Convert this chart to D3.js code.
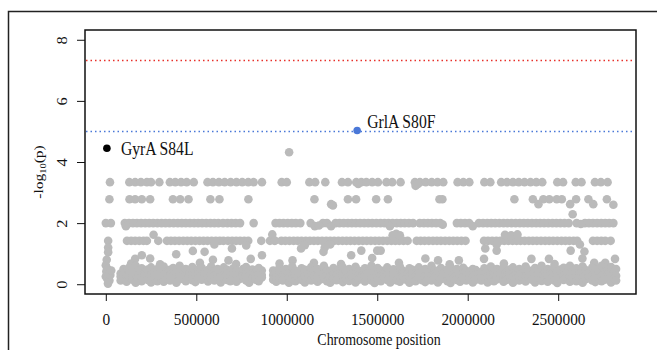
<!DOCTYPE html>
<html>
<head>
<meta charset="utf-8">
<script src="https://cdn.jsdelivr.net/npm/d3@7"></script>
<style>
  html, body { margin: 0; padding: 0; background: #fff; }
  svg { display: block; }
  text { font-family: "Liberation Serif", "Times New Roman", serif; }
</style>
</head>
<body>
<div id="chart"></div>
<script>
// all positions below are in kb along the chromosome
const level334 = 3.34, level278 = 2.78, level200 = 2.0, level142 = 1.42;

const row334 = [23,130,162,194,227,250,296,354,384,416,447,486,562,592,625,657,690,722,754,787,817,863,
  972,1000,1125,1157,1213,1305,1338,1384,1412,1440,1472,1504,1551,1583,1629,1708,1736,1768,1801,1833,1865,
  1944,1976,2009,2092,2125,2185,2217,2250,2282,2314,2347,2379,2412,2495,2527,2597,2629,2703,2736,2773];
const row334Off = [[1395,3.28],[1712,3.22],[1725,3.28]];

const row278 = [20,131,162,199,245,371,411,457,578,628,788,1153,1338,1383,1494,1559,1844,1860,
  2258,2360,2418,2451,2492,2520,2599,2667,2769];
const row278Off = [[1245,2.62],[1255,2.58],[2391,2.62],[2566,2.62],[2694,2.62],[2805,2.6]];

const row200 = [0,28,105,128,150,172,195,218,240,262,285,308,330,352,375,398,420,442,465,488,510,532,555,578,600,622,
  648,672,695,718,742,817,938,960,982,1005,1028,1050,1075,1132,1200,1222,
  1270,1292,1315,1338,1360,1382,1405,1428,1450,1472,1495,1518,1540,1562,1585,1608,1630,1652,1675,1698,
  1735,1758,1780,1802,1825,1848,1940,1962,1985,2008,
  2062,2085,2108,2130,2152,2175,2198,2220,2242,2265,2288,2310,2332,2355,2378,2400,2422,2445,2468,2490,
  2512,2535,2558,2602,2648,2670,2692,2715,2738,2760,2782,2805];
const row200Off = [[111,1.9],[1155,1.9],[1178,1.92],[1245,1.9],[1570,1.9],[1862,1.95],[2028,1.9],[2580,2.29],[2625,1.97]];

const row142 = [13,117,140,162,185,208,227,290,338,360,382,405,428,450,472,495,518,540,562,585,608,630,650,675,698,720,742,765,787,
  859,907,934,970,992,1015,1038,1060,1082,1105,1128,1150,1172,1195,1218,1240,1262,1285,1308,1330,1352,1375,1398,1420,1442,
  1465,1488,1510,1532,1555,1578,1600,1622,1645,1668,1718,1740,1762,1785,1808,1830,1852,1875,1898,1920,1942,1965,1988,
  2090,2112,2135,2158,2180,2202,2225,2248,2270,2292,2315,2338,2360,2382,2405,2428,2450,2472,2495,2518,2540,2562,2585,2605,
  2692,2715,2738,2760,2790];
const row142Off = [[264,1.62],[920,1.63],[1585,1.6],[1605,1.65],[1625,1.6],[2206,1.62],[2240,1.6],[2275,1.63],
  [776,1.27],[600,1.3],[1100,1.28],[1240,1.3],[1210,1.2],[2160,1.3],[2620,1.3]];

// scattered points between the band and the 1.42 row
const midPts = [[13,1.2],[13,1.05],[5,0.8],[162,0.83],[199,0.95],[245,0.84],[389,0.98],[481,1.09],[546,1.06],[592,0.8],
  [678,0.78],[697,1.17],[801,0.83],[863,0.95],[932,1.43],[1032,0.78],[1079,1.17],[1203,1.06],[1356,0.95],[1412,1.1],
  [1472,0.86],[1500,1.1],[1519,1.1],[1766,0.84],[1836,0.78],[1951,0.78],[2090,0.83],[2097,1.17],[2160,1.1],[2352,0.83],
  [2449,0.83],[2569,1.1],[2634,0.84],[2645,1.07],[2699,0.7],[2814,0.83],
  [140,0.68],[300,0.65],[520,0.7],[720,0.66],[960,0.68],[1150,0.7],[1300,0.66],[1620,0.7],[1900,0.65],[2200,0.68],
  [2480,0.66],[2760,0.7],
  [0,0.62],[10,0.5],[3,0.42],[15,0.35],[0,0.25],[8,0.18],[20,0.12],[12,0.02],[25,0.3],[30,0.45]];

// dense low band: one position, an upper, a middle and a lower value
const bandPos = [82,98,115,130,148,165,180,198,215,232,250,268,285,302,320,338,355,372,390,408,
  425,442,460,478,495,512,530,548,565,582,600,618,635,652,670,688,705,722,740,758,775,792,810,828,845,862,
  925,942,960,978,995,1012,1030,1048,1065,1082,1100,1118,1135,1152,1170,1188,1205,1222,1240,1258,
  1275,1292,1310,1328,1345,1362,1380,1398,1415,1432,1450,1468,1485,1502,1520,1538,1555,1572,1590,1608,
  1625,1642,1660,1678,1695,1712,1730,1748,1765,1782,1800,1818,1835,1852,1870,1888,1905,1922,1940,1958,
  1975,1992,2010,2028,2045,
  2075,2092,2110,2128,2145,2162,2180,2198,2215,2232,2250,2268,2285,2302,2320,2338,2355,2372,2390,2408,
  2425,2442,2460,2478,2495,2512,2530,2548,2565,2582,2600,2618,2635,2652,2670,2688,2705,2722,2740,2758,
  2775,2792,2810,2820];
const bandHi = [0.35,0.5,0.42,0.55,0.38,0.6,0.45,0.52,0.4,0.48,0.55,0.36,0.5,0.44,0.58,0.4,0.47,0.53,0.38,0.6,
  0.45,0.5,0.42,0.56,0.37,0.49,0.54,0.4,0.46,0.58,0.43,0.5,0.36,0.55,0.47,0.41,0.52,0.45,0.38,0.5,0.56,0.42,0.48,0.37,0.53,0.45,
  0.45,0.38,0.55,0.42,0.5,0.36,0.58,0.44,0.4,0.52,0.47,0.35,0.56,0.43,0.5,0.39,0.6,0.45,0.41,0.53,
  0.37,0.48,0.55,0.42,0.5,0.36,0.57,0.44,0.39,0.52,0.46,0.6,0.4,0.53,0.45,0.38,0.55,0.42,0.49,0.36,
  0.58,0.44,0.4,0.52,0.47,0.35,0.55,0.43,0.5,0.38,0.6,0.45,0.41,0.53,0.37,0.48,0.56,0.42,0.5,0.36,
  0.54,0.44,0.39,0.5,0.46,
  0.4,0.52,0.45,0.58,0.38,0.5,0.44,0.56,0.4,0.48,0.55,0.42,0.5,0.36,0.58,0.45,0.4,0.53,0.47,0.6,
  0.38,0.5,0.44,0.56,0.41,0.48,0.54,0.39,0.6,0.45,0.52,0.4,0.58,0.46,0.37,0.55,0.43,0.5,0.6,0.42,
  0.48,0.56,0.4,0.5];
const bandMid = [0.25,0.3,0.28,0.36,0.22,0.33,0.3,0.26,0.34,0.29,0.31,0.27,0.35,0.24,0.3,0.33,0.28,0.36,0.25,0.32,
  0.3,0.27,0.34,0.29,0.22,0.33,0.3,0.35,0.26,0.31,0.28,0.36,0.24,0.3,0.33,0.27,0.35,0.29,0.25,0.32,0.3,0.26,0.34,0.28,0.31,0.3,
  0.3,0.24,0.33,0.28,0.35,0.22,0.3,0.27,0.34,0.29,0.25,0.32,0.28,0.36,0.26,0.3,0.33,0.27,0.24,0.31,
  0.29,0.35,0.25,0.3,0.27,0.33,0.24,0.31,0.28,0.26,0.35,0.3,0.22,0.32,0.28,0.34,0.29,0.25,0.33,0.27,
  0.26,0.34,0.3,0.24,0.33,0.27,0.35,0.29,0.25,0.31,0.28,0.34,0.23,0.3,0.35,0.27,0.22,0.32,0.29,0.26,
  0.34,0.28,0.31,0.24,0.3,
  0.27,0.33,0.25,0.36,0.28,0.3,0.34,0.24,0.29,0.35,0.23,0.31,0.27,0.34,0.26,0.32,0.3,0.24,0.33,0.28,
  0.35,0.25,0.3,0.27,0.22,0.32,0.29,0.35,0.25,0.31,0.27,0.34,0.23,0.3,0.36,0.28,0.25,0.32,0.27,0.3,
  0.34,0.24,0.31,0.28];
const bandLo = [0.12,0.2,0.08,0.25,0.15,0.05,0.22,0.1,0.28,0.14,0.06,0.2,0.1,0.24,0.08,0.18,0.12,0.26,0.05,0.16,
  0.22,0.1,0.27,0.13,0.07,0.2,0.15,0.24,0.09,0.18,0.12,0.25,0.06,0.2,0.14,0.1,0.22,0.08,0.17,0.26,0.12,0.05,0.2,0.15,0.1,0.22,
  0.15,0.08,0.22,0.12,0.26,0.05,0.18,0.1,0.24,0.14,0.06,0.2,0.12,0.27,0.08,0.16,0.22,0.1,0.05,0.19,
  0.13,0.25,0.07,0.18,0.11,0.23,0.06,0.15,0.2,0.09,0.26,0.12,0.04,0.18,0.1,0.22,0.14,0.06,0.2,0.12,
  0.08,0.25,0.15,0.05,0.2,0.1,0.24,0.13,0.07,0.18,0.12,0.22,0.06,0.16,0.26,0.1,0.04,0.2,0.14,0.08,
  0.22,0.12,0.18,0.06,0.15,
  0.12,0.2,0.06,0.25,0.1,0.16,0.22,0.08,0.14,0.26,0.05,0.18,0.12,0.24,0.09,0.2,0.15,0.06,0.22,0.11,
  0.26,0.08,0.17,0.12,0.04,0.2,0.14,0.24,0.08,0.18,0.1,0.22,0.05,0.16,0.25,0.12,0.07,0.2,0.1,0.15,
  0.24,0.06,0.18,0.12];

const outlier = [1013, 4.32];
const hits = [
  { label: 'GyrA S84L', pos: 6, value: 4.45, color: '#000000' },
  { label: 'GrlA S80F', pos: 1389, value: 5.03, color: '#4a78d8' },
];
const genomeWideLine = 7.32;
const suggestiveLine = 5.0;
const xTicks = [0, 500000, 1000000, 1500000, 2000000, 2500000];
const yTicks = [0, 2, 4, 6, 8];

const W = 657, H = 350;
const squeeze = 0.87; // the source figure is narrower than tall type
const svg = d3.select('#chart').append('svg').attr('width', W).attr('height', H);

// outer figure frame (runs off the right/bottom edge)
svg.append('rect')
  .attr('x', 8.5).attr('y', 11.5).attr('width', 700).attr('height', 400)
  .attr('fill', 'none').attr('stroke', '#222').attr('stroke-width', 1.5);

const x = d3.scaleLinear().domain([-115000, 2930000]).range([85, 636]);
const y = d3.scaleLinear().domain([-0.32, 8.32]).range([294, 30]);

const pts = [];
row334.forEach(p => pts.push([p, level334]));
row334Off.forEach(d => pts.push(d));
row278.forEach(p => pts.push([p, level278]));
row278Off.forEach(d => pts.push(d));
row200.forEach(p => pts.push([p, level200]));
row200Off.forEach(d => pts.push(d));
row142.forEach(p => pts.push([p, level142]));
row142Off.forEach(d => pts.push(d));
midPts.forEach(d => pts.push(d));
bandPos.forEach((p, i) => {
  [bandHi[i], bandMid[i], bandLo[i]].forEach(v => { if (v != null) pts.push([p, v]); });
});
pts.push(outlier);

svg.selectAll('.snp')
  .data(pts)
  .enter().append('circle')
  .attr('class', 'snp')
  .attr('cx', d => x(d[0] * 1000))
  .attr('cy', d => y(d[1]))
  .attr('r', 4.3)
  .attr('fill', '#bababa');

// threshold lines
svg.append('line')
  .attr('x1', 86).attr('x2', 635)
  .attr('y1', y(genomeWideLine)).attr('y2', y(genomeWideLine))
  .attr('stroke', '#e8302a').attr('stroke-width', 1.6).attr('stroke-dasharray', '1.5,3');
svg.append('line')
  .attr('x1', 86).attr('x2', 635)
  .attr('y1', y(suggestiveLine)).attr('y2', y(suggestiveLine))
  .attr('stroke', '#4a78d8').attr('stroke-width', 1.6).attr('stroke-dasharray', '1.5,3');

// highlighted hits
svg.selectAll('.hit')
  .data(hits)
  .enter().append('circle')
  .attr('class', 'hit')
  .attr('cx', d => x(d.pos * 1000))
  .attr('cy', d => y(d.value))
  .attr('r', 3.8)
  .attr('fill', d => d.color);

svg.selectAll('.hit-label')
  .data(hits)
  .enter().append('text')
  .attr('class', 'hit-label')
  .attr('transform', d => {
    const tx = x(d.pos * 1000) + (d.pos < 100 ? 14 : 10);
    const ty = y(d.value) + (d.pos < 100 ? 7 : -3);
    return `translate(${tx},${ty}) scale(${squeeze},1)`;
  })
  .attr('font-size', '18px')
  .attr('fill', '#111')
  .text(d => d.label);

// axes
const xAxis = svg.append('g')
  .attr('transform', 'translate(0,294)')
  .call(d3.axisBottom(x).tickValues(xTicks).tickFormat(d3.format('d')).tickSize(7))
  .call(g => g.select('.domain').remove());
xAxis.selectAll('.tick line').attr('stroke', '#111');
xAxis.selectAll('.tick text')
  .attr('y', 0).attr('dy', 0)
  .attr('transform', `translate(0,31) scale(${squeeze},1)`)
  .attr('font-size', '17.6px').attr('fill', '#111')
  .style('font-family', '"Liberation Serif", serif');

const yAxis = svg.append('g')
  .attr('transform', 'translate(85,0)')
  .call(d3.axisLeft(y).tickValues(yTicks).tickSize(8))
  .call(g => g.select('.domain').remove());
yAxis.selectAll('.tick line').attr('stroke', '#111');
yAxis.selectAll('.tick text')
  .attr('x', 0).attr('y', 0).attr('dy', 0)
  .attr('transform', `translate(-18,0) scale(${squeeze},1) rotate(-90)`)
  .attr('text-anchor', 'middle')
  .attr('font-size', '16.5px').attr('fill', '#111')
  .style('font-family', '"Liberation Serif", serif');

// plot box
svg.append('rect')
  .attr('x', 85).attr('y', 30).attr('width', 551).attr('height', 264)
  .attr('fill', 'none').attr('stroke', '#111').attr('stroke-width', 1.5);

// axis titles
svg.append('text')
  .attr('transform', `translate(379,345) scale(${squeeze},1)`)
  .attr('text-anchor', 'middle')
  .attr('font-size', '16px').attr('fill', '#111')
  .text('Chromosome position');

const yTitle = svg.append('text')
  .attr('transform', `translate(43,172) scale(${squeeze},1) rotate(-90)`)
  .attr('text-anchor', 'middle')
  .attr('font-size', '15.5px').attr('fill', '#111');
yTitle.append('tspan').text('-log');
yTitle.append('tspan').attr('font-size', '10.5px').attr('dy', 3).text('10');
yTitle.append('tspan').attr('dy', -3).text('(p)');
</script>
</body>
</html>
